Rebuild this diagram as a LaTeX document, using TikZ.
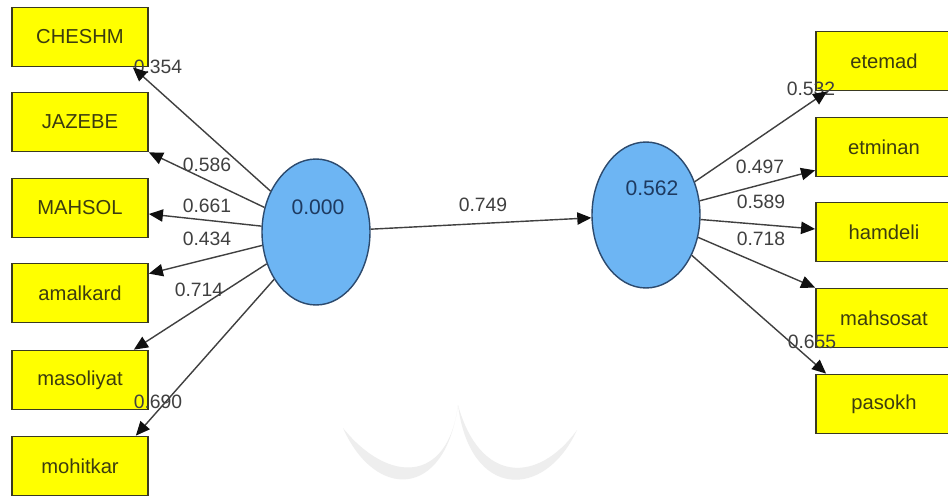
\documentclass[tikz,border=0pt]{standalone}
\usepackage{fontspec}
\setmainfont{Liberation Sans}
\usetikzlibrary{arrows.meta,shapes.geometric,calc}

\definecolor{boxfill}{HTML}{FFFF00}
\definecolor{boxline}{HTML}{3A3A20}
\definecolor{boxtext}{HTML}{3C3C10}
\definecolor{lvfill}{HTML}{6DB5F3}
\definecolor{lvline}{HTML}{2C4A6E}
\definecolor{lvtext}{HTML}{1E3A60}
\definecolor{pathcol}{HTML}{404040}
\definecolor{tipcol}{HTML}{101010}
\definecolor{wmark}{HTML}{EEEEEE}

\begin{document}
\begin{tikzpicture}[x=0.02cm,y=-0.02cm,
  indicator/.style={draw=boxline, fill=boxfill, line width=1pt,
    minimum width=2.72cm, minimum height=1.18cm, inner sep=0pt,
    text=boxtext, font=\fontsize{11.5}{13}\selectfont},
  latent/.style={ellipse, draw=lvline, fill=lvfill, line width=0.8pt,
    minimum width=2.16cm, minimum height=2.92cm, inner sep=0pt},
  lvvalue/.style={text=lvtext, font=\fontsize{12}{14}\selectfont, inner sep=0pt},
  weight/.style={text=pathcol, font=\fontsize{11}{13}\selectfont, inner sep=0pt},
  loading/.style={draw=pathcol, line width=0.8pt,
    -{Triangle[length=8pt,width=7pt,color=tipcol]}}]

\clip (0,0) rectangle (948,497);
\fill[white] (0,0) rectangle (948,497);

% faint emblem in the lower middle
\fill[wmark] (343,428) .. controls (375,500) and (445,500) .. (458,405)
             .. controls (448,484) and (388,484) .. cycle;
\fill[wmark] (458,405) .. controls (470,500) and (545,500) .. (577,430)
             .. controls (538,484) and (480,484) .. cycle;

% indicators of the exogenous construct
\node[indicator] (cheshm)    at (80,37)  {CHESHM};
\node[indicator] (jazebe)    at (80,122) {JAZEBE};
\node[indicator] (mahsol)    at (80,208) {MAHSOL};
\node[indicator] (amalkard)  at (80,293) {amalkard};
\node[indicator] (masoliyat) at (80,380) {masoliyat};
\node[indicator] (mohitkar)  at (80,466) {mohitkar};

% indicators of the endogenous construct
\node[indicator] (etemad)   at (884,61)  {etemad};
\node[indicator] (etminan)  at (884,147) {etminan};
\node[indicator] (hamdeli)  at (884,232) {hamdeli};
\node[indicator] (mahsosat) at (884,318) {mahsosat};
\node[indicator] (pasokh)   at (884,404) {pasokh};

% latent variables with their R-squared values
\node[latent] (xi)  at (316,232) {};
\node[lvvalue] (xival) at (318,207) {0.000};
\node[latent] (eta) at (646,215) {};
\node[lvvalue] (etaval) at (652,188) {0.562};

% outer and inner weights
\node[weight] (w1)  at (158,67)  {0.354};
\node[weight] (w2)  at (207,165) {0.586};
\node[weight] (w3)  at (207,206) {0.661};
\node[weight] (w4)  at (207,239) {0.434};
\node[weight] (w5)  at (199,290) {0.714};
\node[weight] (w6)  at (158,402) {0.690};
\node[weight] (wp)  at (483,205) {0.749};
\node[weight] (v1)  at (811,89)  {0.532};
\node[weight] (v2)  at (760,167) {0.497};
\node[weight] (v3)  at (761,202) {0.589};
\node[weight] (v4)  at (761,239) {0.718};
\node[weight] (v5)  at (812,342) {0.655};

% loadings
\draw[loading] (xi) -- ($(cheshm.south east)+(-16,0)$);
\draw[loading] (xi) -- (jazebe.south east);
\draw[loading] (xi) -- ($(mahsol.east)+(0,6)$);
\draw[loading] (xi) -- ($(amalkard.north east)+(0,11)$);
\draw[loading] (xi) -- ($(masoliyat.north east)+(-15,0)$);
\draw[loading] (xi) -- ($(mohitkar.north east)+(-13,0)$);

% structural path
\draw[loading] (xi) -- (eta);

\draw[loading] (eta) -- ($(etemad.south west)+(12,0)$);
\draw[loading] (eta) -- ($(etminan.south west)+(0,-7)$);
\draw[loading] (eta) -- ($(hamdeli.west)+(0,-3)$);
\draw[loading] (eta) -- (mahsosat.north west);
\draw[loading] (eta) -- ($(pasokh.north west)+(11,0)$);
\end{tikzpicture}
\end{document}
